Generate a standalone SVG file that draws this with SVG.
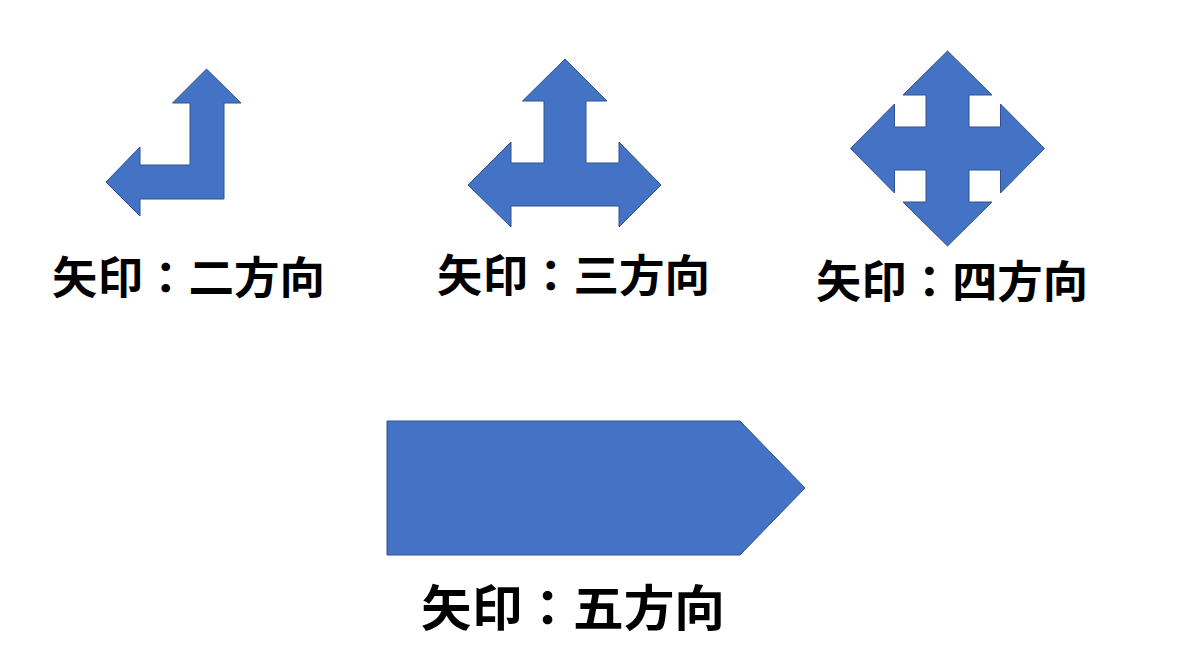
<svg xmlns="http://www.w3.org/2000/svg" width="1200" height="663" viewBox="0 0 1200 663">
<style>
.s{fill:#4472C4;stroke:#2F528F;stroke-width:1}
.t{font-family:"Noto Sans CJK JP","Noto Sans CJK SC",sans-serif;font-weight:bold;fill:#000}
</style>
<rect width="1200" height="663" fill="#fff"/>
<g id="two"><polygon class="s" points="206.5,69 241,103 224,103 224,199 140,199 140,216 106,182 140,147 140,165 190,165 190,103 172.5,103"/></g>
<g id="three"><polygon class="s" points="565,59 607,101 586,101 586,163 619,163 619,142 661,185 619,227 619,206 511,206 511,227 468,185 511,142 511,163 544,163 544,101 522.5,101"/></g>
<g id="four"><polygon class="s" points="947.5,51 992,95 969,95 969,127 1000.5,127 1000.5,104 1044.5,148.5 1000.5,193 1000.5,170 969,170 969,202 992,202 947.5,246 903,202 926,202 926,170 894.5,170 894.5,193 850.5,148.5 894.5,104 894.5,127 926,127 926,95 903,95"/></g>
<g id="five"><polygon class="s" points="387,421 740,421 805,488 740,555 387,555"/></g>
<text class="t" x="52" y="294" font-size="44" textLength="273" lengthAdjust="spacingAndGlyphs">矢印：二方向</text>
<text class="t" x="437" y="292" font-size="44" textLength="273" lengthAdjust="spacingAndGlyphs">矢印：三方向</text>
<text class="t" x="816" y="298" font-size="44" textLength="272" lengthAdjust="spacingAndGlyphs">矢印：四方向</text>
<text class="t" x="421" y="626" font-size="49" textLength="304" lengthAdjust="spacingAndGlyphs">矢印：五方向</text>
</svg>
